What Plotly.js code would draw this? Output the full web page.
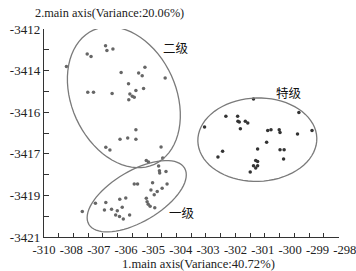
<!DOCTYPE html>
<html>
<head>
<meta charset="utf-8">
<script src="https://cdn.plot.ly/plotly-3.0.1.min.js"></script>
<style>html,body{margin:0;padding:0;background:#fff;}#chart{width:356px;height:271px;}</style>
</head>
<body>
<div id="chart"></div>
<script>
// Axis tick labels (as printed on the original chart)
const xTickVals = [-309, -308, -307, -306, -305, -304, -303, -302, -301, -300, -299, -298];
const xTickText = ['-310', '-308', '-307', '-306', '-305', '-304', '-303', '-302', '-301', '-300', '-299', '-298'];
const yTickVals = [-3421, -3420, -3419, -3418, -3417, -3416, -3415, -3414, -3413, -3412, -3411];
const yTickText = ['-3421', '', '-3419', '', '-3417', '', '-3416', '', '-3414', '', '-3412'];

// Group 二级 (second grade)
const grade2X = [-308.18, -306.75, -306.70, -306.48, -307.42, -307.28, -306.18, -305.54, -305.41, -305.31,
  -304.57, -305.91, -307.40, -307.19, -306.51, -305.64, -305.36, -305.86, -305.77, -305.70,
  -305.90, -305.64, -306.22, -305.94, -305.64, -306.74, -306.59, -304.72, -305.26, -305.18,
  -304.66, -304.81];
const grade2Y = [-3412.80, -3411.80, -3412.03, -3411.96, -3412.20, -3412.32, -3413.09, -3413.12, -3413.25, -3412.84,
  -3413.36, -3413.63, -3414.04, -3414.04, -3414.10, -3413.96, -3413.86, -3414.13, -3414.23, -3414.28,
  -3414.40, -3415.84, -3416.30, -3416.24, -3416.30, -3416.68, -3416.82, -3416.67, -3417.32, -3417.39,
  -3417.20, -3417.59];

// Group 一级 (first grade)
const grade1X = [-304.78, -304.77, -304.54, -305.70, -305.58, -305.03, -304.50, -304.68, -305.09, -304.86,
  -304.97, -305.26, -305.23, -305.19, -305.12, -304.95, -306.23, -306.01, -306.74, -307.12,
  -306.14, -306.79, -306.53, -306.32, -306.38, -306.24, -306.10, -305.87, -307.60];
const grade1Y = [-3417.81, -3417.92, -3417.85, -3418.45, -3418.45, -3418.39, -3418.45, -3418.66, -3418.74, -3418.81,
  -3418.97, -3419.14, -3419.30, -3419.42, -3419.52, -3419.59, -3419.18, -3419.13, -3419.34, -3419.38,
  -3419.57, -3419.70, -3419.67, -3419.74, -3419.94, -3420.01, -3420.13, -3419.94, -3419.77];

// Group 特级 (special grade)
const specialX = [-301.34, -299.68, -303.13, -302.35, -301.92, -301.91, -301.86, -301.64, -301.55, -301.82,
  -300.82, -300.70, -300.40, -300.37, -299.73, -299.20, -300.86, -301.19, -300.37, -300.22,
  -302.47, -302.64, -300.24, -301.26, -301.19, -301.34, -301.19, -301.26, -301.46];
const specialY = [-3414.37, -3415.01, -3415.71, -3415.20, -3415.20, -3415.44, -3415.47, -3415.44, -3415.52, -3415.79,
  -3415.88, -3415.84, -3415.84, -3415.97, -3416.05, -3415.88, -3416.45, -3416.77, -3416.80, -3416.80,
  -3416.88, -3417.15, -3417.25, -3417.32, -3417.37, -3417.57, -3417.57, -3417.68, -3417.88];

const margin = {l: 44, r: 4, t: 29, b: 34};
const W = 356, H = 271;
const plotW = W - margin.l - margin.r, plotH = H - margin.t - margin.b;
const xRange = [-309, -309 + plotW / 27.35];
const yRange = [-3421, -3411];
const pxX = plotW / (xRange[1] - xRange[0]);
const pxY = plotH / (yRange[1] - yRange[0]);

function ellipsePath(cx, cy, rx, ry, deg) {
  const phi = deg * Math.PI / 180;
  const pts = [];
  for (let i = 0; i <= 72; i++) {
    const t = i / 72 * 2 * Math.PI;
    const dx = rx * Math.cos(t), dy = ry * Math.sin(t);
    const ex = dx * Math.cos(phi) - dy * Math.sin(phi);
    const ey = dx * Math.sin(phi) + dy * Math.cos(phi);
    pts.push((cx + ex / pxX).toFixed(4) + ',' + (cy + ey / pxY).toFixed(4));
  }
  return 'M' + pts.join('L') + 'Z';
}

const serif = 'Liberation Serif, Times New Roman, serif';
const cjk = 'Noto Sans CJK SC, sans-serif';
const mk = (x, y, c) => ({x: x, y: y, type: 'scatter', mode: 'markers', xaxis: 'x', yaxis: 'y',
  marker: {size: 3.5, color: c}, showlegend: false, hoverinfo: 'skip'});

const data = [
  mk(grade2X, grade2Y, '#666'),
  mk(grade1X, grade1Y, '#666'),
  mk(specialX, specialY, '#333'),
  {x: [], y: [], type: 'scatter', mode: 'markers', xaxis: 'x2', yaxis: 'y', showlegend: false, hoverinfo: 'skip'}
];

const ellStyle = {color: '#7a7a7a', width: 1.3};
const layout = {
  width: W, height: H, margin: margin,
  paper_bgcolor: '#fff', plot_bgcolor: 'rgba(0,0,0,0)',
  showlegend: false,
  title: {text: '2.main axis(Variance:20.06%)', font: {family: serif, size: 12.3, color: '#222'},
    xref: 'container', x: 35 / W, xanchor: 'left', yref: 'container', y: 1 - 13 / H, yanchor: 'middle'},
  xaxis: {range: xRange, tickmode: 'array', tickvals: xTickVals, ticktext: xTickText,
    ticks: '', showline: false, showgrid: false, zeroline: false, ticklabeloverflow: 'allow',
    tickfont: {family: serif, size: 12.6, color: '#222'}, ticklabelstandoff: 3},
  xaxis2: {domain: [0, (338.5 - margin.l) / plotW], anchor: 'y', range: [0, 20], tickmode: 'linear', tick0: 0, dtick: 1,
    ticks: 'inside', ticklen: 4, tickwidth: 1, tickcolor: '#333', showticklabels: false,
    showline: true, linecolor: '#333', linewidth: 1.2, showgrid: false, zeroline: false},
  yaxis: {range: yRange, tickmode: 'array', tickvals: yTickVals, ticktext: yTickText,
    ticks: 'inside', ticklen: 5, tickwidth: 1, tickcolor: '#333',
    showline: true, linecolor: '#333', linewidth: 1.2, showgrid: false, zeroline: false,
    tickfont: {family: serif, size: 13, color: '#222'}},
  shapes: [
    {type: 'path', xref: 'x', yref: 'y', path: ellipsePath(-306.08, -3414.28, 73.7, 52.2, 114.5), line: ellStyle, fillcolor: 'rgba(0,0,0,0)'},
    {type: 'path', xref: 'x', yref: 'y', path: ellipsePath(-305.61, -3419.04, 55.5, 25.5, 30.4), line: ellStyle, fillcolor: 'rgba(0,0,0,0)'},
    {type: 'path', xref: 'x', yref: 'y', path: ellipsePath(-301.20, -3416.32, 59.5, 41.7, 1.6), line: ellStyle, fillcolor: 'rgba(0,0,0,0)'}
  ],
  annotations: [
    {text: '1.main axis(Variance:40.72%)', xref: 'paper', yref: 'paper', x: (198 - margin.l) / plotW, y: -(263.8 - 237) / plotH,
      showarrow: false, font: {family: serif, size: 12.6, color: '#222'}, xanchor: 'center', yanchor: 'middle'},
    {text: '二级', xref: 'paper', yref: 'paper', x: (176 - margin.l) / plotW, y: (237 - 47) / plotH, showarrow: false,
      font: {family: cjk, size: 12.5, color: '#111'}, xanchor: 'center', yanchor: 'middle'},
    {text: '特级', xref: 'paper', yref: 'paper', x: (289 - margin.l) / plotW, y: (237 - 92) / plotH, showarrow: false,
      font: {family: cjk, size: 12.5, color: '#111'}, xanchor: 'center', yanchor: 'middle'},
    {text: '一级', xref: 'paper', yref: 'paper', x: (182 - margin.l) / plotW, y: (237 - 212.5) / plotH, showarrow: false,
      font: {family: cjk, size: 12.5, color: '#111'}, xanchor: 'center', yanchor: 'middle'}
  ]
};

Plotly.newPlot('chart', data, layout, {displayModeBar: false, staticPlot: true});
</script>
</body>
</html>
